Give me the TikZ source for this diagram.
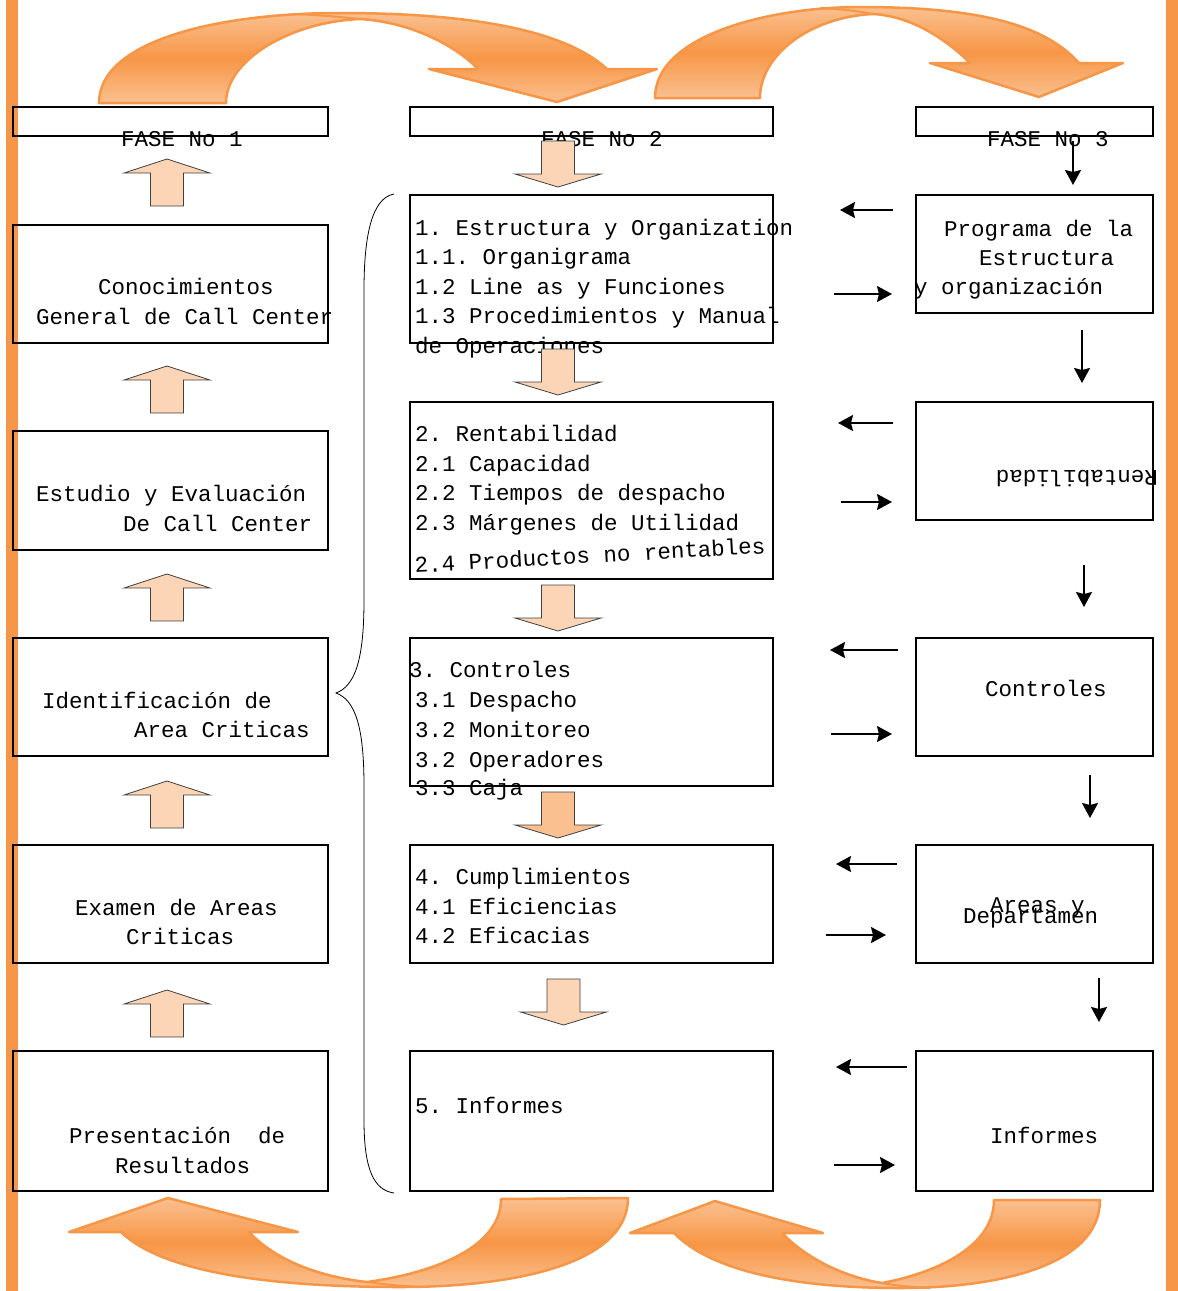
\documentclass[tikz,border=0pt]{standalone}
\usepackage{fontspec}
\newfontfamily\monofam{Liberation Mono}
\usetikzlibrary{arrows.meta}
\definecolor{accent}{HTML}{F79646}
\definecolor{accentlight}{HTML}{FAC090}
\definecolor{peach}{HTML}{FBD5B5}
\definecolor{peachdark}{HTML}{FAC090}

\tikzset{
  box/.style={draw=black, line width=2.5pt, rectangle, inner sep=0pt, outer sep=0pt, anchor=north west},
  txt/.style={anchor=base west, inner sep=0pt, font=\monofam\frenchspacing\fontsize{22.5}{29.5}\selectfont},
  blockarrow/.style={fill=peach, draw=black!75, line width=0.8pt, line join=miter},
  flow/.style={draw=black, line width=2.2pt, -{Stealth[length=15pt,width=16pt,inset=2pt]}},
  bigarrow/.style={draw=accent, line width=2.5pt, line join=round,
    top color=accentlight, bottom color=accentlight, middle color=accent},
  seam/.style={draw=accent, line width=2pt},
}

% rectangle node from its top-left and bottom-right corners
\newcommand\panel[5]{\node[box, minimum width={(#4-#2)*1pt}, minimum height={(#5-#3)*1pt}] (#1) at (#2,#3) {};}
% block arrow pointing up, tip at (#1,#2)
\newcommand\uparrowat[2]{\filldraw[blockarrow] (#1,#2) -- ++(43,14) -- ++(-26.5,0) -- ++(0,33) -- ++(-33,0) -- ++(0,-33) -- ++(-26.5,0) -- cycle;}
% block arrow pointing down, shaft top centred at (#2,#3)
\newcommand\downarrowat[3][peach]{\filldraw[blockarrow, fill=#1] ({#2-16.5},#3) -- ++(33,0) -- ++(0,33) -- ++(26.5,0) -- ++(-43,13) -- ++(-43,-13) -- ++(26.5,0) -- cycle;}
% straight black arrow between two named points
\newcommand\flowarrow[3]{\coordinate (#1s) at (#2); \coordinate (#1e) at (#3); \draw[flow] (#1s) -- (#1e);}

\begin{document}
\begin{tikzpicture}[x=1pt,y=-1pt]
\useasboundingbox (0,0) rectangle (1178,1291);

% side bars
\fill[accent] (6,0) rectangle (18,1291);
\fill[accent] (1166,0) rectangle (1178,1291);

% curved arrows on top
\shadedraw[bigarrow] (99,103) .. controls (99,40) and (220,13) .. (340,13) .. controls (470,13) and (565,30) .. (607,69)
  -- (657,69) -- (557,102) -- (429,69) -- (478,69)
  .. controls (455,45) and (410,22) .. (360,19) .. controls (290,22) and (226,60) .. (226,103) -- cycle;
\draw[seam] (360,19) .. controls (330,16) .. (295,14);

\shadedraw[bigarrow] (655,98) .. controls (655,35) and (770,7) .. (860,7) .. controls (980,7) and (1045,25) .. (1079,63)
  -- (1123,63) -- (1039,97) -- (930,63) -- (970,63)
  .. controls (945,38) and (910,16) .. (873,14) .. controls (810,17) and (760,55) .. (760,98) -- cycle;
\draw[seam] (873,14) .. controls (850,10) .. (820,8);

% curved arrows at the bottom
\shadedraw[bigarrow] (628,1198) .. controls (628,1262) and (520,1287) .. (400,1287) .. controls (260,1287) and (160,1270) .. (121,1232)
  -- (69,1232) -- (168,1198) -- (298,1232) -- (249,1232)
  .. controls (280,1265) and (330,1278) .. (367,1282) .. controls (440,1272) and (501,1245) .. (501,1199) -- cycle;
\draw[seam] (367,1282) .. controls (390,1285) .. (420,1287);

\shadedraw[bigarrow] (1100,1200) .. controls (1100,1265) and (1000,1288) .. (900,1288) .. controls (790,1288) and (710,1270) .. (674,1233)
  -- (630,1233) -- (715,1201) -- (823,1233) -- (782,1233)
  .. controls (810,1262) and (850,1278) .. (882,1283) .. controls (940,1272) and (994,1245) .. (994,1200) -- cycle;
\draw[seam] (882,1283) .. controls (900,1286) .. (930,1288);

% phase headers
\panel{H1}{13}{107}{328}{136}
\panel{H2}{410}{107}{773}{136}
\panel{H3}{916}{107}{1153}{136}
\node[txt] (h1t) at (121,146) {FASE No 1};
\node[txt] (h2t) at (541,146) {FASE No 2};
\node[txt] (h3t) at (987,146) {FASE No 3};

% left column
\panel{L1}{13}{225}{328}{343}
\panel{L2}{13}{431}{328}{550}
\panel{L3}{13}{638}{328}{756}
\panel{L4}{13}{845}{328}{963}
\panel{L5}{13}{1051}{328}{1191}
\node[txt] (l1a) at (98,294) {Conocimientos};
\node[txt] (l1b) at (36,324) {General de Call Center};
\node[txt] (l2a) at (36,501) {Estudio y Evaluación};
\node[txt] (l2b) at (123,531) {De Call Center};
\node[txt] (l3a) at (42,708) {Identificación de};
\node[txt] (l3b) at (134,737) {Area Criticas};
\node[txt] (l4a) at (75,915) {Examen de Areas};
\node[txt] (l4b) at (126,944) {Criticas};
\node[txt] (l5a) at (69,1143) {Presentación\ \ de};
\node[txt] (l5b) at (115,1173) {Resultados};

\uparrowat{167}{159}
\uparrowat{167}{366}
\uparrowat{167}{574}
\uparrowat{167}{781}
\uparrowat{167}{990}

% middle column
\panel{M1}{410}{195}{773}{343}
\panel{M2}{410}{402}{773}{579}
\panel{M3}{410}{638}{773}{786}
\panel{M4}{410}{845}{773}{963}
\panel{M5}{410}{1051}{773}{1191}
\node[txt] (m1a) at (415,235) {1. Estructura y Organization};
\node[txt] (m1b) at (415,264) {1.1. Organigrama};
\node[txt] (m1c) at (415,294) {1.2 Line as y Funciones};
\node[txt] (m1d) at (415,323) {1.3 Procedimientos y Manual};
\node[txt] (m1e) at (415,353) {de Operaciones};
\node[txt] (m2a) at (415,441) {2. Rentabilidad};
\node[txt] (m2b) at (415,471) {2.1 Capacidad};
\node[txt] (m2c) at (415,500) {2.2 Tiempos de despacho};
\node[txt] (m2d) at (415,530) {2.3 Márgenes de Utilidad};
\node[txt, rotate=3.2] (m2e) at (415,573) {2.4 Productos no rentables};
\node[txt] (m3a) at (409,677) {3. Controles};
\node[txt] (m3b) at (415,707) {3.1 Despacho};
\node[txt] (m3c) at (415,737) {3.2 Monitoreo};
\node[txt] (m3d) at (415,767) {3.2 Operadores};
\node[txt] (m3e) at (415,795) {3.3 Caja};
\node[txt] (m4a) at (415,884) {4. Cumplimientos};
\node[txt] (m4b) at (415,914) {4.1 Eficiencias};
\node[txt] (m4c) at (415,943) {4.2 Eficacias};
\node[txt] (m5a) at (415,1113) {5. Informes};

\downarrowat{558}{141}
\downarrowat{558}{349}
\downarrowat{558}{585}
\downarrowat[peachdark]{558}{792}
\downarrowat{563.5}{979}

% brace grouping the middle column
\draw[black, line width=0.8pt] (394,194) .. controls (372,198) and (364,235) .. (364,290)
  -- (364,600) .. controls (364,660) and (355,686) .. (336,693)
  .. controls (355,700) and (364,726) .. (364,786)
  -- (364,1120) .. controls (364,1170) and (374,1190) .. (394,1193);

% right column
\panel{R1}{916}{195}{1153}{313}
\panel{R2}{916}{402}{1153}{520}
\panel{R3}{916}{638}{1153}{756}
\panel{R4}{916}{845}{1153}{963}
\panel{R5}{916}{1051}{1153}{1191}
\node[txt] (r1a) at (944,236) {Programa de la};
\node[txt] (r1b) at (979,265) {Estructura};
\node[txt] (r1c) at (914,294) {y organización};
\node[txt, rotate=180] (r2a) at (1158,470) {Rentabilidad};
\node[txt] (r3a) at (985,696) {Controles};
\node[txt] (r4a) at (990,912) {Areas y};
\node[txt] (r4b) at (963,923) {Departamen};
\node[txt] (r5a) at (990,1143) {Informes};

% arrows down the right column
\flowarrow{v0}{1073,141}{1073,185}
\flowarrow{v1}{1082,330}{1082,383}
\flowarrow{v2}{1084,565}{1084,607}
\flowarrow{v3}{1090,775}{1090,818}
\flowarrow{v4}{1099,978}{1099,1022}

% arrows between middle and right columns
\flowarrow{b1}{893,210}{840,210}
\flowarrow{f1}{834,294}{892,294}
\flowarrow{b2}{893,423}{838,423}
\flowarrow{f2}{841,502}{892,502}
\flowarrow{b3}{898,650}{830,650}
\flowarrow{f3}{831,734}{892,734}
\flowarrow{b4}{897,864}{836,864}
\flowarrow{f4}{826,935}{886,935}
\flowarrow{b5}{907,1067}{836,1067}
\flowarrow{f5}{834,1165}{895,1165}
\end{tikzpicture}
\end{document}
